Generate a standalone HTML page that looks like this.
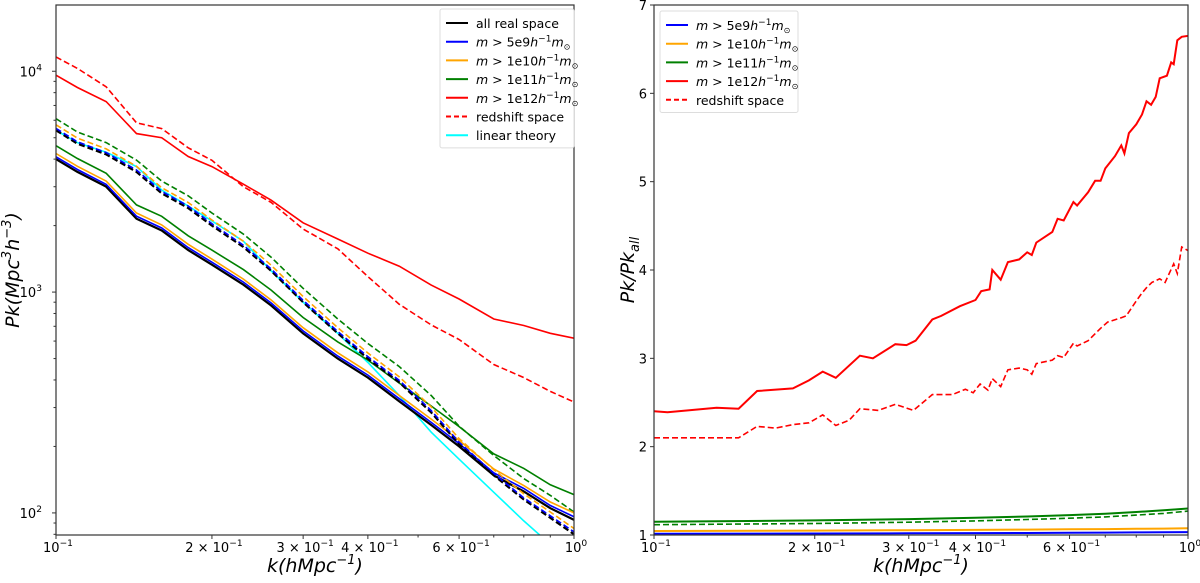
<!DOCTYPE html>
<html><head><meta charset="utf-8"><style>
html,body{margin:0;padding:0;background:#fff}
svg{display:block;font-family:"DejaVu Sans","Liberation Sans",sans-serif}
</style></head><body>
<svg id="fig" width="1200" height="583" viewBox="0 0 1200 583" xmlns="http://www.w3.org/2000/svg"></svg>
<script>
// ---- Left chart data ----
const kL = [0.1,0.11,0.125,0.143,0.16,0.18,0.2,0.23,0.26,0.3,0.35,0.4,0.46,0.53,0.6,0.7,0.8,0.9,1.0];
const pkAll = [4000,3500,3000,2150,1900,1550,1330,1080,870,650,500,410,320,250,200,148,125,105,93];
const pk5e9 = [4100,3590,3075,2205,1950,1590,1365,1110,893,667,513,421,329,257,206,152,129,108,96];
const pk1e10 = [4240,3710,3180,2280,2015,1645,1410,1145,922,690,531,435,340,266,213,158,133,112,100];
const pk1e11 = [4600,4025,3450,2483,2204,1798,1550,1264,1022,767,595,492,387,305,246,185,159,134,121];
const pk1e12 = [9600,8440,7290,5220,5000,4110,3700,3080,2610,2060,1740,1500,1310,1075,930,755,706,651,618];
const pkAllRsd = [5400,4700,4200,3500,2800,2400,2000,1600,1250,900,650,500,390,285,205,148,115,95,80];
const pk5e9Rsd = [5510,4790,4280,3570,2856,2450,2040,1630,1275,918,663,510,398,291,209,151,117,97,82];
const pk1e10Rsd = [5720,4980,4450,3710,2970,2545,2120,1700,1325,955,690,530,413,302,217,157,122,101,85];
const pk1e11Rsd = [6100,5310,4750,3960,3180,2730,2280,1830,1440,1040,755,585,460,340,247,182,143,120,101];
const pk1e12Rsd = [11600,10300,8500,5840,5500,4500,3950,3000,2550,1930,1570,1175,880,710,610,470,410,355,318];
const pkLinear = [5400,4750,4300,3700,2900,2450,2100,1700,1250,900,650,480,340,232,175,124,92,72,57];
// ---- Right chart data ----
const kR = [0.1,0.106,0.131,0.144,0.156,0.182,0.195,0.207,0.219,0.243,0.257,0.283,0.297,0.309,0.332,0.345,0.374,0.4,0.41,0.425,0.43,0.446,0.46,0.483,0.5,0.51,0.52,0.557,0.57,0.585,0.61,0.62,0.65,0.67,0.686,0.7,0.73,0.75,0.76,0.775,0.8,0.82,0.836,0.853,0.87,0.885,0.913,0.93,0.94,0.955,0.973,1.0];
const ratio1e12 = [2.40,2.39,2.44,2.43,2.63,2.66,2.75,2.85,2.78,3.03,3.0,3.16,3.15,3.2,3.44,3.48,3.59,3.66,3.76,3.78,4.0,3.89,4.09,4.12,4.2,4.17,4.31,4.43,4.58,4.56,4.77,4.73,4.88,5.01,5.01,5.15,5.29,5.41,5.32,5.55,5.65,5.76,5.91,5.87,5.96,6.17,6.2,6.35,6.33,6.6,6.64,6.65];
const kRd = [0.1,0.144,0.156,0.169,0.182,0.195,0.207,0.219,0.232,0.243,0.263,0.283,0.306,0.332,0.362,0.383,0.396,0.408,0.422,0.43,0.446,0.46,0.483,0.5,0.51,0.52,0.557,0.57,0.585,0.61,0.62,0.65,0.686,0.707,0.75,0.766,0.8,0.82,0.836,0.856,0.885,0.906,0.94,0.955,0.973,1.0];
const ratio1e12Rsd = [2.10,2.10,2.23,2.21,2.25,2.27,2.36,2.24,2.3,2.43,2.41,2.48,2.41,2.59,2.59,2.65,2.61,2.71,2.64,2.77,2.68,2.87,2.89,2.87,2.82,2.94,2.98,3.03,3.01,3.17,3.14,3.2,3.34,3.41,3.46,3.48,3.65,3.74,3.8,3.86,3.9,3.86,4.07,3.96,4.26,4.22];
const kS = [0.1,0.2,0.3,0.4,0.5,0.6,0.7,0.8,0.9,1.0];
const ratio5e9 = [1.015,1.017,1.019,1.021,1.023,1.025,1.027,1.029,1.031,1.033];
const ratio1e10 = [1.045,1.05,1.054,1.058,1.061,1.064,1.067,1.07,1.073,1.077];
const ratio1e11 = [1.15,1.165,1.18,1.195,1.21,1.225,1.24,1.26,1.28,1.30];
const ratio1e11Rsd = [1.117,1.13,1.145,1.16,1.175,1.19,1.205,1.225,1.245,1.27];
const xTicks = [0.1,0.2,0.3,0.4,0.6,1.0];
const xTickLabels = [["10","−1"],["2 × 10","−1"],["3 × 10","−1"],["4 × 10","−1"],["6 × 10","−1"],["10","0"]];
const xMinor = [0.5,0.7,0.8,0.9];
const yTicksL = [100,1000,10000];
const yTickLabelsL = [["10","2"],["10","3"],["10","4"]];
const yTicksR = [1,2,3,4,5,6,7];

const NS="http://www.w3.org/2000/svg";
const svg=document.getElementById('fig');
function mk(tag,attrs,parent){const e=document.createElementNS(NS,tag);for(const a in attrs)e.setAttribute(a,attrs[a]);(parent||svg).appendChild(e);return e;}

const L={x0:56,x1:574,y0:5,y1:535};
const lx=k=>L.x0+(Math.log10(k)+1)*(L.x1-L.x0);
const ly=v=>L.y1-(Math.log10(v)-1.9)/(2.4)*(L.y1-L.y0);
const R={x0:654,x1:1188,y0:5,y1:535};
const rx=k=>R.x0+(Math.log10(k)+1)*(R.x1-R.x0);
const ry=v=>R.y1-(v-1)/6*(R.y1-R.y0);

function clip(id,A){const d=mk('defs',{});const c=mk('clipPath',{id:id},d);mk('rect',{x:A.x0,y:A.y0,width:A.x1-A.x0,height:A.y1-A.y0},c);}
clip('cl',L);clip('cr',R);

function line(xs,ys,fx,fy,color,dash,name,cl,w){
  const pts=xs.map((k,i)=>fx(k).toFixed(1)+','+fy(ys[i]).toFixed(1)).join(' ');
  const p=mk('polyline',{points:pts,fill:'none',stroke:color,'stroke-width':w||1.6,'stroke-dasharray':dash?'6,3':'none','clip-path':'url(#'+cl+')'});
  
  
}
const BLUE='#0000ff',OR='#ffa500',GR='#008000',RED='#ff0000',CY='#00ffff';
line(kL,pkLinear,lx,ly,CY,false,'linear-theory-line','cl');
line(kL,pk1e12Rsd,lx,ly,RED,true,'1e12-redshift-line','cl');
line(kL,pk1e12,lx,ly,RED,false,'1e12-real-line','cl');
line(kL,pk1e11Rsd,lx,ly,GR,true,'1e11-redshift-line','cl');
line(kL,pk1e11,lx,ly,GR,false,'1e11-real-line','cl');
line(kL,pkAll,lx,ly,'#000',false,'all-real-line','cl',2.2);
line(kL,pk5e9,lx,ly,BLUE,false,'5e9-real-line','cl');
line(kL,pk1e10,lx,ly,OR,false,'1e10-real-line','cl');
line(kL,pk1e10Rsd,lx,ly,OR,true,'1e10-redshift-line','cl');
line(kL,pkAllRsd,lx,ly,'#000',true,'all-redshift-line','cl',2.2);
line(kL,pk5e9Rsd,lx,ly,BLUE,true,'5e9-redshift-line','cl');
line(kS,ratio5e9,rx,ry,BLUE,false,'ratio-5e9-line','cr',2);
line(kS,ratio1e10,rx,ry,OR,false,'ratio-1e10-line','cr',2);
line(kS,ratio1e11Rsd,rx,ry,GR,true,'ratio-1e11-redshift-line','cr');
line(kS,ratio1e11,rx,ry,GR,false,'ratio-1e11-line','cr',2);
line(kRd,ratio1e12Rsd,rx,ry,RED,true,'ratio-1e12-redshift-line','cr');
line(kR,ratio1e12,rx,ry,RED,false,'ratio-1e12-line','cr',2);

function frame(A,name){const r=mk('rect',{x:A.x0,y:A.y0,width:A.x1-A.x0,height:A.y1-A.y0,fill:'none',stroke:'#333','stroke-width':1.2});
 
 }
frame(L,'left-plot-frame');frame(R,'right-plot-frame');

function supText(x,y,base,sup,anchor,name,size){
  const t=mk('text',{x:x,y:y,'font-size':size||13,'text-anchor':anchor,fill:'#000'});
  
  
  const a=mk('tspan',{},t);a.textContent=base;
  const b=mk('tspan',{dy:-6,'font-size':(size||13)*0.7},t);b.textContent=sup;
}
[[L,lx,'left'],[R,rx,'right']].forEach(([A,fx,side])=>{
  xTicks.forEach((k,i)=>{const x=fx(k);mk('line',{x1:x,x2:x,y1:A.y1,y2:A.y1+4,stroke:'#333'});
    supText(x+2,A.y1+17,xTickLabels[i][0],xTickLabels[i][1],'middle',side+'-x-tick-label');});
  xMinor.forEach(k=>{const x=fx(k);mk('line',{x1:x,x2:x,y1:A.y1,y2:A.y1+2.5,stroke:'#333'});});
});
yTicksL.forEach((v,i)=>{const y=ly(v);mk('line',{x1:L.x0-4,x2:L.x0,y1:y,y2:y,stroke:'#333'});
  supText(L.x0-14,y+5,yTickLabelsL[i][0],yTickLabelsL[i][1],'end','left-y-tick-label');});
[100,1000,10000].forEach(d=>{for(let m=2;m<10;m++){const v=d*m;if(v>19900)continue;const y=ly(v);mk('line',{x1:L.x0-2.5,x2:L.x0,y1:y,y2:y,stroke:'#333'});}});
[80,90].forEach(v=>{const y=ly(v);mk('line',{x1:L.x0-2.5,x2:L.x0,y1:y,y2:y,stroke:'#333'});});
yTicksR.forEach(v=>{const y=ry(v);mk('line',{x1:R.x0-4,x2:R.x0,y1:y,y2:y,stroke:'#333'});
  const t=mk('text',{x:R.x0-7,y:y+5,'font-size':13,'text-anchor':'end'});t.textContent=v;
  
  });

function xTitle(cx,name){const t=mk('text',{x:cx,y:572,'font-size':19,'text-anchor':'middle','font-style':'italic'});
 
 
 const a=mk('tspan',{},t);a.textContent='k(hMpc';const b=mk('tspan',{dy:-8,'font-size':13},t);b.textContent='−1';const c=mk('tspan',{dy:8},t);c.textContent=')';}
xTitle(315,'left-x-axis-title');xTitle(921,'right-x-axis-title');
(function(){const t=mk('text',{x:0,y:0,'font-size':19,'text-anchor':'middle','font-style':'italic',transform:'translate(19,270) rotate(-90)'});
 
 
 const s=[['Pk(Mpc',0,19],['3',-8,13],['h',8,19],['−3',-8,13],[')',8,19]];
 s.forEach(([x,dy,fs])=>{const e=mk('tspan',{dy:dy,'font-size':fs},t);e.textContent=x;});})();
(function(){const t=mk('text',{x:0,y:0,'font-size':19,'text-anchor':'middle','font-style':'italic',transform:'translate(634,270) rotate(-90)'});
 
 
 const a=mk('tspan',{},t);a.textContent='Pk/Pk';const b=mk('tspan',{dy:5,'font-size':13},t);b.textContent='all';})();

function legend(x,y,w,items,name){
  const g=mk('g',{});
  
  mk('rect',{x:x,y:y,width:w,height:items.length*18.7+8,fill:'#fff',stroke:'#ddd',rx:2},g);
  items.forEach((it,i)=>{const yy=y+14+i*18.7;
    const e=mk('g',{},g);
    
    mk('line',{x1:x+6,x2:x+28,y1:yy,y2:yy,stroke:it[0],'stroke-width':2,'stroke-dasharray':it[2]?'5,3':'none'},e);
    const t=mk('text',{x:x+36,y:yy+5,'font-size':12.5},e);
    if(it[1]){const s=it[1];
      [['m',0,12.5,1],[' > '+s,0,12.5,0],['h',0,12.5,1],['−1',-5,9,0],['m',5,12.5,1],['⊙',3,8,0]].forEach(([tx,dy,fs,it2])=>{const sp=mk('tspan',{dy:dy,'font-size':fs,'font-style':it2?'italic':'normal'},t);sp.textContent=tx;});
    } else t.textContent=it[3];
  });
}
legend(440,9,134,[['#000',null,false,'all real space'],[BLUE,'5e9'],[OR,'1e10'],[GR,'1e11'],[RED,'1e12'],[RED,null,true,'redshift space'],[CY,null,false,'linear theory']],'left-legend');
legend(660,11,138,[[BLUE,'5e9'],[OR,'1e10'],[GR,'1e11'],[RED,'1e12'],[RED,null,true,'redshift space']],'right-legend');
</script>
</body></html>
